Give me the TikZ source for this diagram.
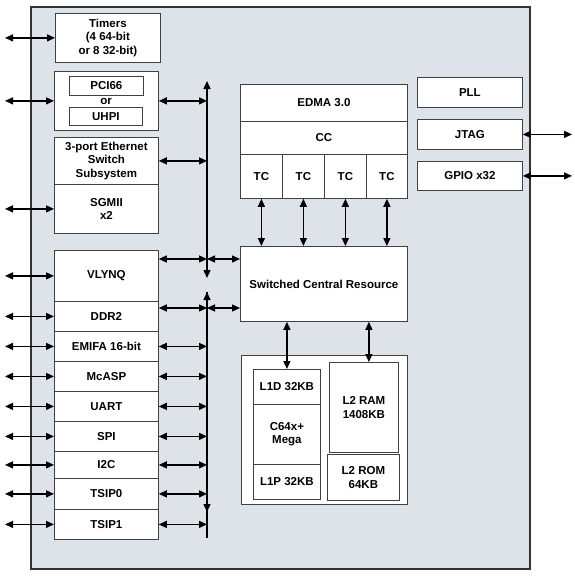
\documentclass[tikz,border=0pt]{standalone}
\usepackage{fontspec}
\setmainfont{Liberation Sans}
\usetikzlibrary{arrows.meta}
\begin{document}
\begin{tikzpicture}
    [x=1pt,y=-1pt,
    blk/.style={draw=black!75,fill=white,line width=0.8pt,inner sep=0pt,anchor=north west,align=center,
        font=\bfseries\fontsize{11.5}{13.3}\selectfont},
    bi/.style={line width=1.3pt,{Triangle[length=8pt,width=7pt]}-{Triangle[length=8pt,width=7pt]}},
    bus/.style={line width=1.3pt}]
        \useasboundingbox (0,0) rectangle (574,578);
        \draw[draw=black!80,fill={rgb,255:red,222;green,227;blue,234},line width=1.2pt] (31,7) rectangle (530,569);

        % left column
        \node [blk,minimum width=105,minimum height=49] (timers) at (55,13) {Timers\\(4 64-bit\\or 8 32-bit)};
        \node [blk,minimum width=104,minimum height=59] (pci) at (54,71) {};
        \node [blk,minimum width=74,minimum height=19] (pci66) at (69,76) {PCI66};
        \node [font=\bfseries\fontsize{11.5}{13.3}\selectfont,inner sep=0pt] (or) at (106,101) {or};
        \node [blk,minimum width=73,minimum height=18] (uhpi) at (69,107) {UHPI};
        \node [blk,minimum width=104,minimum height=47] (eth) at (54,137) {3-port Ethernet\\Switch\\Subsystem};
        \node [blk,minimum width=104,minimum height=49] (sgmii) at (54,184) {SGMII\\x2};

        \node [blk,minimum width=104,minimum height=51] (vlynq) at (54,250) {VLYNQ};
        \node [blk,minimum width=104,minimum height=30] (ddr) at (54,301) {DDR2};
        \node [blk,minimum width=104,minimum height=30] (emifa) at (54,331) {EMIFA 16-bit};
        \node [blk,minimum width=104,minimum height=30] (mcasp) at (54,361) {McASP};
        \node [blk,minimum width=104,minimum height=30] (uart) at (54,391) {UART};
        \node [blk,minimum width=104,minimum height=30] (spi) at (54,421) {SPI};
        \node [blk,minimum width=104,minimum height=27] (i2c) at (54,451) {I2C};
        \node [blk,minimum width=104,minimum height=31] (tsip0) at (54,478) {TSIP0};
        \node [blk,minimum width=104,minimum height=30] (tsip1) at (54,509) {TSIP1};

        % EDMA and switch fabric
        \node [blk,minimum width=167,minimum height=37] (edma) at (240,84) {EDMA 3.0};
        \node [blk,minimum width=167,minimum height=33] (cc) at (240,121) {CC};
        \node [blk,minimum width=42,minimum height=44] (tc1) at (240,154) {TC};
        \node [blk,minimum width=42,minimum height=44] (tc2) at (282,154) {TC};
        \node [blk,minimum width=42,minimum height=44] (tc3) at (324,154) {TC};
        \node [blk,minimum width=41,minimum height=44] (tc4) at (366,154) {TC};
        \node [blk,minimum width=167,minimum height=75] (scr) at (240,246) {Switched Central Resource};

        % megamodule
        \node [blk,minimum width=166,minimum height=149] (mega) at (241,355) {};
        \node [blk,minimum width=67,minimum height=35] (l1d) at (253,369) {L1D 32KB};
        \node [blk,minimum width=67,minimum height=60] (cpu) at (253,404) {C64x+\\Mega};
        \node [blk,minimum width=67,minimum height=35] (l1p) at (253,464) {L1P 32KB};
        \node [blk,minimum width=69,minimum height=90] (l2ram) at (329,362) {L2 RAM\\1408KB};
        \node [blk,minimum width=72,minimum height=46] (l2rom) at (327,454) {L2 ROM\\64KB};

        % right column
        \node [blk,minimum width=105,minimum height=30] (pll) at (417,77) {PLL};
        \node [blk,minimum width=105,minimum height=30] (jtag) at (417,119) {JTAG};
        \node [blk,minimum width=105,minimum height=29] (gpio) at (417,161) {GPIO x32};

        % pins and buses
        \coordinate (ledge) at (5,0);
        \coordinate (redge) at (572,0);
        \coordinate (busa) at (207,81);
        \coordinate (busb) at (207,278);
        \coordinate (busc) at (207,292);
        \coordinate (busd) at (207,538);
        \coordinate (tapvl) at (207,259);
        \coordinate (tapddr) at (207,308);
        \coordinate (tapl2) at ([xshift=5pt]l2ram.north);

        \draw[bi] (busa) -- (busb);
        \draw[bus,{Triangle[length=8pt,width=7pt]}-] (busc) -- (busd);
        \draw[bus,-{Triangle[length=8pt,width=7pt]}] (busc) -- (207,512);

        \foreach \n in {timers,pci,sgmii,vlynq,ddr,emifa,mcasp,uart,spi,i2c,tsip0,tsip1}
            \draw[bi] (\n.west -| ledge) -- (\n.west);
        \foreach \n in {pci,eth}
            \draw[bi] (\n.east) -- (\n.east -| busa);
        \foreach \n in {emifa,mcasp,uart,spi,i2c,tsip0,tsip1}
            \draw[bi] (\n.east) -- (\n.east -| busc);
        \draw[bi] (tapvl -| vlynq.east) -- (tapvl);
        \draw[bi] (tapvl) -- (tapvl -| scr.west);
        \draw[bi] (tapddr -| ddr.east) -- (tapddr);
        \draw[bi] (tapddr) -- (tapddr -| scr.west);

        \foreach \n in {tc1,tc2,tc3,tc4}
            \draw[bi] (\n.south) -- (\n.south |- scr.north);
        \draw[bi] (scr.south -| l1d.north) -- (l1d.north);
        \draw[bi] (scr.south -| tapl2) -- (tapl2);

        \draw[bi] (jtag.east) -- (jtag.east -| redge);
        \draw[bi] (gpio.east) -- (gpio.east -| redge);
    \end{tikzpicture}
\end{document}
